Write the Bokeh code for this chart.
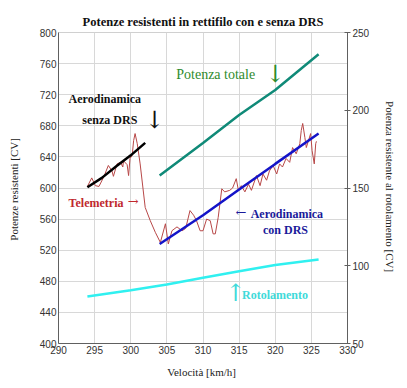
from bokeh.plotting import figure
from bokeh.models import Range1d, LinearAxis, Label, FixedTicker
from bokeh.embed import file_html
from bokeh.resources import INLINE

# ---- data ----
tel_v = [294.0, 294.6, 295.1, 295.6, 296.25, 296.9, 297.4, 297.6, 298.1, 298.6, 298.9, 299.0, 299.5, 299.7,
         299.9, 300.2, 300.4, 300.6, 300.9, 301.3, 302.0, 302.7, 303.4, 304.1, 304.8, 305.2, 305.7, 306.4,
         307.1, 307.6, 308.2, 308.7, 309.1, 309.6, 310.0, 310.5, 311.0, 311.4, 311.7, 312.1, 312.6, 313.0,
         313.7, 314.1, 314.6, 314.9, 315.3, 315.8, 316.3, 316.7, 317.4, 317.9, 318.3, 318.8, 319.2, 319.7,
         320.2, 320.6, 321.0, 321.5, 322.0, 322.4, 322.9, 323.4, 323.6, 323.8, 324.1, 324.3, 324.6, 324.9,
         325.1, 325.4, 325.6, 325.7]
tel_p = [602, 613, 603, 602, 614, 629, 622, 615, 631, 633, 627, 635, 630, 616,
         638, 642, 661, 670, 657, 631, 575, 558, 543, 530, 554, 528, 545, 550,
         545, 548, 571, 565, 558, 545, 545, 560, 558, 541, 541, 562, 599, 595,
         597, 600, 612, 597, 603, 595, 605, 597, 616, 603, 618, 610, 622, 629,
         618, 631, 627, 638, 633, 652, 644, 657, 674, 683, 665, 652, 661, 670,
         648, 631, 657, 660]

nodrs_v = [294, 296, 298, 300, 302]
nodrs_p = [601, 613, 628, 642, 658]

tot_v = [304, 310, 315, 320, 326]
tot_p = [616, 658, 694, 726, 772]

drs_v = [304, 310, 315, 320, 326]
drs_p = [528, 565, 598, 631, 670]

roll_v = [294, 300, 305, 310, 315, 320, 326]
roll_p = [80.2, 84.3, 88.0, 92.3, 96.5, 100.5, 104.0]

x_ticks = [290, 295, 300, 305, 310, 315, 320, 325, 330]
y_ticks = [400, 440, 480, 520, 560, 600, 640, 680, 720, 760, 800]
y2_ticks = [50, 100, 150, 200, 250]

SERIF = "Liberation Serif"
SANS = "Liberation Sans"

p = figure(width=399, height=380, output_backend="svg", toolbar_location=None,
           x_range=Range1d(290, 330), y_range=Range1d(400, 800),
           min_border_left=58, min_border_right=51, min_border_top=32, min_border_bottom=37)
p.extra_y_ranges = {"roll": Range1d(50, 250)}

p.title.text = "Potenze resistenti in rettifilo con e senza DRS"
p.title.align = "center"
p.title.text_font = SERIF
p.title.text_font_size = "12.5px"
p.title.text_font_style = "bold"
p.title.text_color = "#111111"
p.title.standoff = 8

p.background_fill_color = "white"
p.border_fill_color = "white"
p.outline_line_color = "#d0d0d0"
p.xgrid.ticker = FixedTicker(ticks=x_ticks)
p.ygrid.ticker = FixedTicker(ticks=y_ticks)
p.grid.grid_line_color = "#d8d8d8"
p.grid.grid_line_width = 1

for ax in (p.xaxis[0], p.yaxis[0]):
    ax.major_label_text_font = SANS
    ax.major_label_text_font_size = "10px"
    ax.major_label_text_color = "#333333"
    ax.axis_line_color = "#606060"
    ax.major_tick_out = 0
    ax.major_tick_in = 0
    ax.minor_tick_out = 0
    ax.minor_tick_in = 0
    ax.axis_label_text_font = SERIF
    ax.axis_label_text_font_size = "11px"
    ax.axis_label_text_font_style = "normal"
    ax.axis_label_text_color = "#222222"

p.xaxis.ticker = FixedTicker(ticks=x_ticks)
p.yaxis.ticker = FixedTicker(ticks=y_ticks)
p.xaxis.axis_label = "Velocità  [km/h]"
p.yaxis.axis_label = "Potenze resistenti  [CV]"
p.xaxis.major_label_standoff = 2
p.xaxis.axis_label_standoff = 9
p.yaxis.major_label_standoff = 2
p.yaxis.axis_label_standoff = 17

ax2 = LinearAxis(y_range_name="roll", ticker=FixedTicker(ticks=y2_ticks),
                 axis_label="Potenza resistente al rotolamento  [CV]")
ax2.major_label_text_font = SANS
ax2.major_label_text_font_size = "10px"
ax2.major_label_text_color = "#333333"
ax2.axis_line_color = "#606060"
ax2.major_tick_out = 3
ax2.major_tick_in = 3
ax2.major_tick_line_color = "#606060"
ax2.minor_tick_out = 0
ax2.minor_tick_in = 0
ax2.major_label_standoff = 2
ax2.axis_label_text_font = SERIF
ax2.axis_label_text_font_size = "11px"
ax2.axis_label_text_font_style = "normal"
ax2.axis_label_text_color = "#222222"
ax2.axis_label_standoff = 12
p.add_layout(ax2, "right")

# ---- lines ----
p.line(tel_v, tel_p, line_color="#b84848", line_width=1)
p.line(nodrs_v, nodrs_p, line_color="#000000", line_width=2.5)
p.line(tot_v, tot_p, line_color="#108a78", line_width=2.5)
p.line(drs_v, drs_p, line_color="#1414c8", line_width=2.5)
p.line(roll_v, roll_p, line_color="#30f0f0", line_width=2.5, y_range_name="roll")

# ---- texts ----
def lab(x, y, text, color, size="12px", style="bold", align="left", font=SERIF):
    p.add_layout(Label(x=x, y=y, text=text, text_color=color, text_font=font,
                       text_font_size=size, text_font_style=style, text_align=align,
                       text_baseline="middle"))

lab(306.3, 746, "Potenza totale", "#2e8b2e", "14px", "normal")
lab(318.6, 746, "↓", "#2e8b2e", "24px", "normal", font="DejaVu Serif")
lab(291.4, 715, "Aerodinamica", "#111111", "12px")
lab(293.3, 687, "senza DRS", "#111111", "12px")
lab(301.9, 688, "↓", "#111111", "24px", "normal", font="DejaVu Serif")
lab(291.4, 581, "Telemetria", "#c0282d", "12px")
lab(299.6, 582, "→", "#c0282d", "13px", "normal", font="DejaVu Serif")
lab(314.5, 568, "←", "#1a1a9a", "13px", "normal", font="DejaVu Serif")
lab(316.6, 567, "Aerodinamica", "#1a1a9a", "12px")
lab(318.3, 546.5, "con DRS", "#1a1a9a", "12px")
lab(313.1, 465, "↑", "#40dada", "24px", "normal", font="DejaVu Serif")
lab(315.4, 462, "Rotolamento", "#40dada", "12px")

open("out.html", "w").write(file_html(p, INLINE))
